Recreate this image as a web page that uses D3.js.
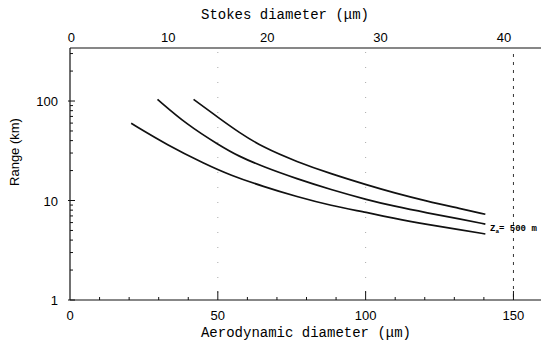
<!DOCTYPE html>
<html>
<head>
<meta charset="utf-8">
<script src="https://cdn.jsdelivr.net/npm/d3@7"></script>
<style>
  body { margin: 0; background: #fff; }
  svg { display: block; }
</style>
</head>
<body>
<svg id="chart" width="541" height="350"></svg>
<script>
// aerodynamic diameter (um) and range (km)
let aeroLow = [20.7, 33, 45.7, 54.2, 65.4, 76.8, 88.1, 100.9, 109.4, 120.9, 132.1, 140.5];
let rangeLow = [59.7, 36, 23.3, 18.0, 13.8, 10.9, 8.9, 7.54, 6.62, 5.74, 5.08, 4.61];

let aeroMid = [29.6, 39.5, 50.8, 56.9, 65.4, 76.8, 88.1, 100.9, 109.4, 120.9, 132.1, 140.5];
let rangeMid = [104, 58, 35.5, 28.0, 21.8, 16.5, 12.9, 10.1, 8.8, 7.5, 6.5, 5.8];

let aeroHigh = [41.8, 50.8, 56.9, 65.4, 76.8, 88.1, 100.9, 109.4, 120.9, 132.1, 140.5];
let rangeHigh = [104, 66, 49, 34, 24.5, 18.6, 14.2, 12.0, 9.8, 8.3, 7.27];

let bottomTicks = [0, 50, 100, 150];
let leftTicks = [1, 10, 100];
// Stokes diameter ticks and the aerodynamic diameter they sit at
let stokesLabels = [0, 10, 20, 30, 40];
let stokesAtAero = [0.5, 33.2, 66.7, 105, 146.8];

let svg = d3.select("#chart");
let pLeft = 70, pRight = 543, pTop = 48, pBottom = 300;

let x = d3.scaleLinear().domain([0, 160]).range([pLeft, pRight]);
let y = d3.scaleLog().domain([1, Math.pow(10, 2.533)]).range([pBottom, pTop]);

// faint grid at 50 / 100, dashed at 150
svg.selectAll(".grid")
    .data([50, 100])
    .enter().append("line")
    .attr("x1", d => x(d)).attr("x2", d => x(d))
    .attr("y1", pTop + 4).attr("y2", pBottom)
    .attr("stroke", "#aaa")
    .attr("stroke-width", 1)
    .attr("stroke-dasharray", "1,14");
svg.append("line")
    .attr("x1", x(150)).attr("x2", x(150))
    .attr("y1", pTop + 6).attr("y2", pBottom)
    .attr("stroke", "#333")
    .attr("stroke-width", 1)
    .attr("stroke-dasharray", "3,5");

// frame
svg.append("line").attr("x1", pLeft).attr("x2", 541).attr("y1", pBottom).attr("y2", pBottom)
    .attr("stroke", "#111").attr("stroke-width", 1.2);
svg.append("line").attr("x1", pLeft).attr("x2", 541).attr("y1", pTop).attr("y2", pTop)
    .attr("stroke", "#111").attr("stroke-width", 1.2);
svg.append("line").attr("x1", pLeft).attr("x2", pLeft).attr("y1", pTop).attr("y2", pBottom)
    .attr("stroke", "#111").attr("stroke-width", 1.2);

// bottom minor ticks every 10
svg.selectAll(".xminor")
    .data(d3.range(10, 160, 10))
    .enter().append("line")
    .attr("x1", d => x(d)).attr("x2", d => x(d))
    .attr("y1", pBottom).attr("y2", d => d % 50 === 0 ? pBottom - 9 : pBottom - 3)
    .attr("stroke", "#111");

// left log ticks
let minor = [];
[1, 10, 100].forEach(dec => {
    for (let k = 2; k <= 9; k++) {
        if (dec * k < y.domain()[1]) minor.push(dec * k);
    }
});
svg.selectAll(".yminor")
    .data(minor)
    .enter().append("line")
    .attr("x1", pLeft).attr("x2", pLeft + 3)
    .attr("y1", d => y(d)).attr("y2", d => y(d))
    .attr("stroke", "#111");
svg.selectAll(".ymajor")
    .data(leftTicks)
    .enter().append("line")
    .attr("x1", pLeft - 2).attr("x2", pLeft + 5)
    .attr("y1", d => y(d)).attr("y2", d => y(d))
    .attr("stroke", "#111");

// tick labels
svg.selectAll(".xlab")
    .data(bottomTicks)
    .enter().append("text")
    .attr("x", d => x(d)).attr("y", 320)
    .attr("text-anchor", "middle")
    .style("font-family", "Liberation Sans, Arial, sans-serif")
    .style("font-size", "13px")
    .text(d => d);

svg.selectAll(".ylab")
    .data(leftTicks)
    .enter().append("text")
    .attr("x", pLeft - 12).attr("y", d => y(d) + 5)
    .attr("text-anchor", "end")
    .style("font-family", "Liberation Sans, Arial, sans-serif")
    .style("font-size", "13px")
    .text(d => d);

svg.selectAll(".slab")
    .data(stokesLabels)
    .enter().append("text")
    .attr("x", (d, i) => x(stokesAtAero[i])).attr("y", 42)
    .attr("text-anchor", "middle")
    .style("font-family", "Liberation Sans, Arial, sans-serif")
    .style("font-size", "13px")
    .text(d => d);

// titles
svg.append("text")
    .attr("x", 306).attr("y", 337)
    .attr("text-anchor", "middle")
    .style("font-family", "Liberation Mono, DejaVu Sans Mono, monospace")
    .style("font-size", "14px")
    .text("Aerodynamic diameter (\u03bcm)");
svg.append("text")
    .attr("x", 285).attr("y", 19)
    .attr("text-anchor", "middle")
    .style("font-family", "Liberation Mono, DejaVu Sans Mono, monospace")
    .style("font-size", "14px")
    .text("Stokes diameter (\u03bcm)");
svg.append("text")
    .attr("transform", "translate(19,152) rotate(-90)")
    .attr("text-anchor", "middle")
    .style("font-family", "Liberation Sans, Arial, sans-serif")
    .style("font-size", "13px")
    .text("Range (km)");

// curves
let line = d3.line()
    .x(d => x(d[0]))
    .y(d => y(d[1]))
    .curve(d3.curveBasis);

[[aeroLow, rangeLow], [aeroMid, rangeMid], [aeroHigh, rangeHigh]].forEach(s => {
    svg.append("path")
        .datum(d3.zip(s[0], s[1]))
        .attr("d", line)
        .attr("fill", "none")
        .attr("stroke", "#111")
        .attr("stroke-width", 1.7);
});

// label
let lab = svg.append("text")
    .attr("x", 490).attr("y", 231)
    .style("font-family", "Liberation Mono, DejaVu Sans Mono, monospace")
    .style("font-size", "9px")
    .style("font-weight", "bold");
lab.append("tspan").text("Z");
lab.append("tspan").attr("dy", 2).style("font-size", "6px").text("a");
lab.append("tspan").attr("dy", -2).text("= 500 m");
</script>
</body>
</html>
